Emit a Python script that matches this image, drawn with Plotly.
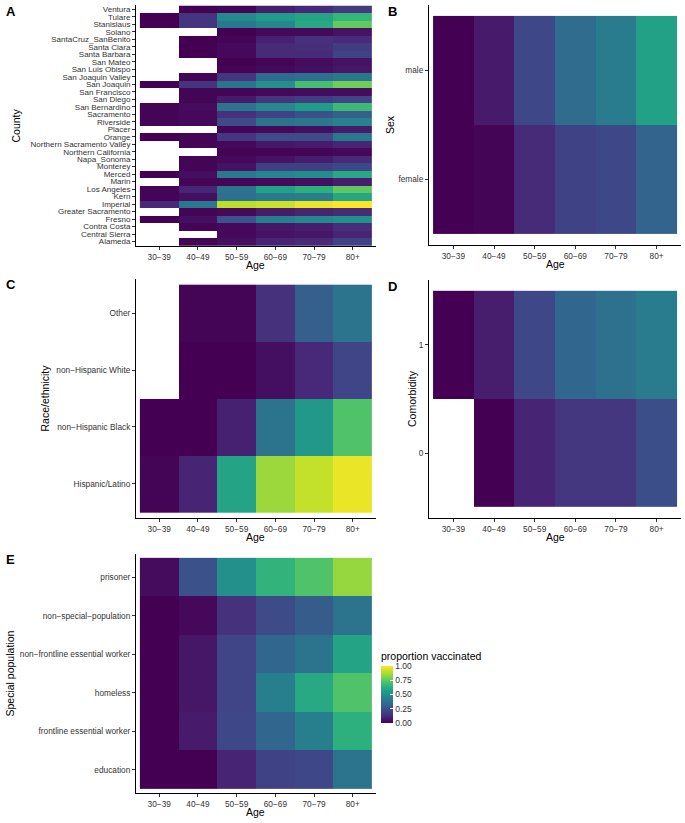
import plotly.graph_objects as go

W, H = 685, 823
FONT = "Liberation Sans, Arial, sans-serif"

age_groups = ["30−39", "40−49", "50−59", "60−69", "70−79", "80+"]

# Panel A (bottom to top)
counties = ["Alameda", "Central Sierra", "Contra Costa", "Fresno", "Greater Sacramento",
            "Imperial", "Kern", "Los Angeles", "Marin", "Merced", "Monterey", "Napa_Sonoma",
            "Northern California", "Northern Sacramento Valley", "Orange", "Placer",
            "Riverside", "Sacramento", "San Bernardino", "San Diego", "San Francisco",
            "San Joaquin", "San Joaquin Valley", "San Luis Obispo", "San Mateo",
            "Santa Barbara", "Santa Clara", "SantaCruz_SanBenito", "Solano", "Stanislaus",
            "Tulare", "Ventura"]
county_vaccinated = [
    [None, 0.01, 0.04, 0.10, 0.12, 0.20],   # Alameda
    [None, None, 0.02, 0.05, 0.06, 0.10],   # Central Sierra
    [None, 0.01, 0.02, 0.06, 0.08, 0.13],   # Contra Costa
    [0.00, 0.04, 0.26, 0.43, 0.47, 0.50],   # Fresno
    [None, 0.01, 0.02, 0.07, 0.10, 0.12],   # Greater Sacramento
    [0.11, 0.40, 0.90, 0.92, 0.97, 1.00],   # Imperial
    [0.01, 0.04, 0.36, 0.41, 0.43, 0.59],   # Kern
    [0.01, 0.10, 0.38, 0.57, 0.63, 0.75],   # Los Angeles
    [None, 0.01, 0.01, 0.02, 0.04, 0.08],   # Marin
    [0.00, 0.04, 0.41, 0.46, 0.49, 0.60],   # Merced
    [None, 0.01, 0.05, 0.19, 0.19, 0.22],   # Monterey
    [None, 0.01, 0.02, 0.05, 0.08, 0.12],   # Napa_Sonoma
    [None, None, 0.01, 0.01, 0.01, 0.02],   # Northern California
    [None, 0.01, 0.02, 0.06, 0.07, 0.10],   # Northern Sacramento Valley
    [0.00, 0.01, 0.16, 0.23, 0.23, 0.40],   # Orange
    [None, None, 0.01, 0.02, 0.04, 0.07],   # Placer
    [0.01, 0.02, 0.23, 0.38, 0.40, 0.45],   # Riverside
    [0.01, 0.02, 0.14, 0.20, 0.25, 0.30],   # Sacramento
    [0.01, 0.03, 0.38, 0.47, 0.55, 0.68],   # San Bernardino
    [None, 0.01, 0.07, 0.15, 0.18, 0.21],   # San Diego
    [None, 0.01, 0.01, 0.02, 0.03, 0.03],   # San Francisco
    [0.00, 0.15, 0.38, 0.50, 0.70, 0.78],   # San Joaquin
    [None, 0.01, 0.16, 0.34, 0.36, 0.40],   # San Joaquin Valley
    [None, None, 0.01, 0.02, 0.04, 0.06],   # San Luis Obispo
    [None, None, 0.00, 0.01, 0.03, 0.05],   # San Mateo
    [None, 0.00, 0.02, 0.12, 0.12, 0.20],   # Santa Barbara
    [None, 0.00, 0.02, 0.12, 0.13, 0.18],   # Santa Clara
    [None, 0.00, 0.01, 0.09, 0.14, 0.12],   # SantaCruz_SanBenito
    [None, None, 0.00, 0.02, 0.02, 0.05],   # Solano
    [0.00, 0.15, 0.40, 0.46, 0.60, 0.76],   # Stanislaus
    [0.00, 0.15, 0.48, 0.55, 0.58, 0.66],   # Tulare
    [None, 0.00, 0.01, 0.08, 0.11, 0.17],   # Ventura
]

# Panel B
sexes = ["female", "male"]
sex_vaccinated = [
    [0.00, 0.01, 0.12, 0.20, 0.22, 0.32],
    [0.00, 0.07, 0.22, 0.35, 0.42, 0.57],
]

# Panel C
races = ["Hispanic/Latino", "non−Hispanic Black", "non−Hispanic White", "Other"]
race_vaccinated = [
    [0.01, 0.10, 0.58, 0.85, 0.91, 0.97],
    [0.00, 0.00, 0.09, 0.38, 0.53, 0.72],
    [None, 0.00, 0.00, 0.04, 0.11, 0.21],
    [None, 0.01, 0.01, 0.14, 0.30, 0.38],
]

# Panel D
comorbidity = ["0", "1"]
comorbidity_vaccinated = [
    [None, 0.00, 0.10, 0.16, 0.16, 0.24],
    [0.00, 0.08, 0.22, 0.33, 0.37, 0.42],
]

# Panel E
special_pops = ["education", "frontline essential worker", "homeless",
                "non−frontline essential worker", "non−special−population", "prisoner"]
special_vaccinated = [
    [0.00, 0.00, 0.10, 0.20, 0.22, 0.38],
    [0.00, 0.07, 0.22, 0.33, 0.43, 0.63],
    [0.00, 0.06, 0.21, 0.43, 0.60, 0.72],
    [0.00, 0.06, 0.21, 0.33, 0.38, 0.58],
    [0.00, 0.02, 0.14, 0.23, 0.29, 0.38],
    [0.03, 0.25, 0.50, 0.65, 0.72, 0.84],
]

legend_ticks = [0, 0.25, 0.5, 0.75, 1.0]
legend_labels = ["0.00", "0.25", "0.50", "0.75", "1.00"]


def px_x(p):
    return p / W


def px_y(p):
    return 1 - p / H


panels = [
    dict(cats=counties, z=county_vaccinated, xd=(136, 376), yd=(5, 246),
         ytitle="County", ytx=16, letter=("A", 4, 11), yfs=8.0),
    dict(cats=sexes, z=sex_vaccinated, xd=(429, 681), yd=(5, 245),
         ytitle="Sex", ytx=390, letter=("B", 386, 11), yfs=8.3),
    dict(cats=races, z=race_vaccinated, xd=(136, 376), yd=(279, 518),
         ytitle="Race/ethnicity", ytx=44, letter=("C", 4, 285), yfs=8.3),
    dict(cats=comorbidity, z=comorbidity_vaccinated, xd=(429, 681), yd=(280, 518),
         ytitle="Comorbidity", ytx=412, letter=("D", 386, 286), yfs=8.3),
    dict(cats=special_pops, z=special_vaccinated, xd=(136, 376), yd=(554, 793),
         ytitle="Special population", ytx=9, letter=("E", 4, 559), yfs=8.3),
]

fig = go.Figure()
annotations = []
axis_common = dict(showline=True, linecolor="black", linewidth=1, ticks="outside",
                   ticklen=3, tickwidth=1, tickcolor="#333333", showgrid=False,
                   zeroline=False, type="category", automargin=False, fixedrange=True)

for i, p in enumerate(panels, start=1):
    xa = "x" if i == 1 else f"x{i}"
    ya = "y" if i == 1 else f"y{i}"
    fig.add_trace(go.Heatmap(
        x=age_groups, y=p["cats"], z=p["z"], coloraxis="coloraxis",
        xaxis=xa, yaxis=ya, hoverongaps=False,
    ))
    n = len(p["cats"])
    xname = "xaxis" if i == 1 else f"xaxis{i}"
    yname = "yaxis" if i == 1 else f"yaxis{i}"
    fig.update_layout({
        xname: dict(axis_common, domain=[px_x(p["xd"][0]), px_x(p["xd"][1])],
                    anchor=ya, range=[-0.6, 5.6],
                    categoryorder="array", categoryarray=age_groups,
                    tickmode="array", tickvals=age_groups, ticktext=age_groups,
                    tickfont=dict(family=FONT, size=8.3, color="#333333")),
        yname: dict(axis_common, domain=[px_y(p["yd"][1]), px_y(p["yd"][0])],
                    anchor=xa, range=[-0.6, n - 0.4],
                    categoryorder="array", categoryarray=p["cats"],
                    tickmode="array", tickvals=p["cats"], ticktext=p["cats"],
                    tickfont=dict(family=FONT, size=p["yfs"], color="#333333")),
    })
    annotations.append(dict(text="Age", x=px_x((p["xd"][0] + p["xd"][1]) / 2),
                            y=px_y(p["yd"][1] + 19), xref="paper", yref="paper",
                            showarrow=False, xanchor="center", yanchor="middle",
                            font=dict(family=FONT, size=10.5, color="black")))
    annotations.append(dict(text=p["ytitle"], x=px_x(p["ytx"]),
                            y=px_y((p["yd"][0] + p["yd"][1]) / 2), xref="paper",
                            yref="paper", showarrow=False, textangle=-90,
                            xanchor="center", yanchor="middle",
                            font=dict(family=FONT, size=10.5, color="black")))
    letter, lx, ly = p["letter"]
    annotations.append(dict(text=f"<b>{letter}</b>", x=px_x(lx), y=px_y(ly),
                            xref="paper", yref="paper", showarrow=False,
                            xanchor="left", yanchor="middle",
                            font=dict(family=FONT, size=13, color="black")))

fig.update_layout(
    width=W, height=H,
    margin=dict(l=0, r=0, t=0, b=0),
    paper_bgcolor="white", plot_bgcolor="white",
    template="none",
    showlegend=False,
    annotations=annotations,
    coloraxis=dict(
        colorscale="Viridis", cmin=0, cmax=1,
        colorbar=dict(
            title=dict(text="proportion vaccinated", side="top",
                       font=dict(family=FONT, size=10.5, color="black")),
            x=px_x(381), xanchor="left", xref="paper",
            y=px_y(723), yanchor="bottom", yref="paper",
            len=74, lenmode="pixels", thickness=12, thicknessmode="pixels",
            tickvals=legend_ticks, ticktext=legend_labels,
            ticks="inside", ticklen=3, tickcolor="white", tickwidth=1,
            tickfont=dict(family=FONT, size=8.5, color="#333333"),
            outlinewidth=0, xpad=0, ypad=0,
        ),
    ),
)

fig.write_html(
    "out.html",
    config={"displayModeBar": False},
    post_script="document.body.style.margin='0';document.body.style.overflow='hidden';",
)
